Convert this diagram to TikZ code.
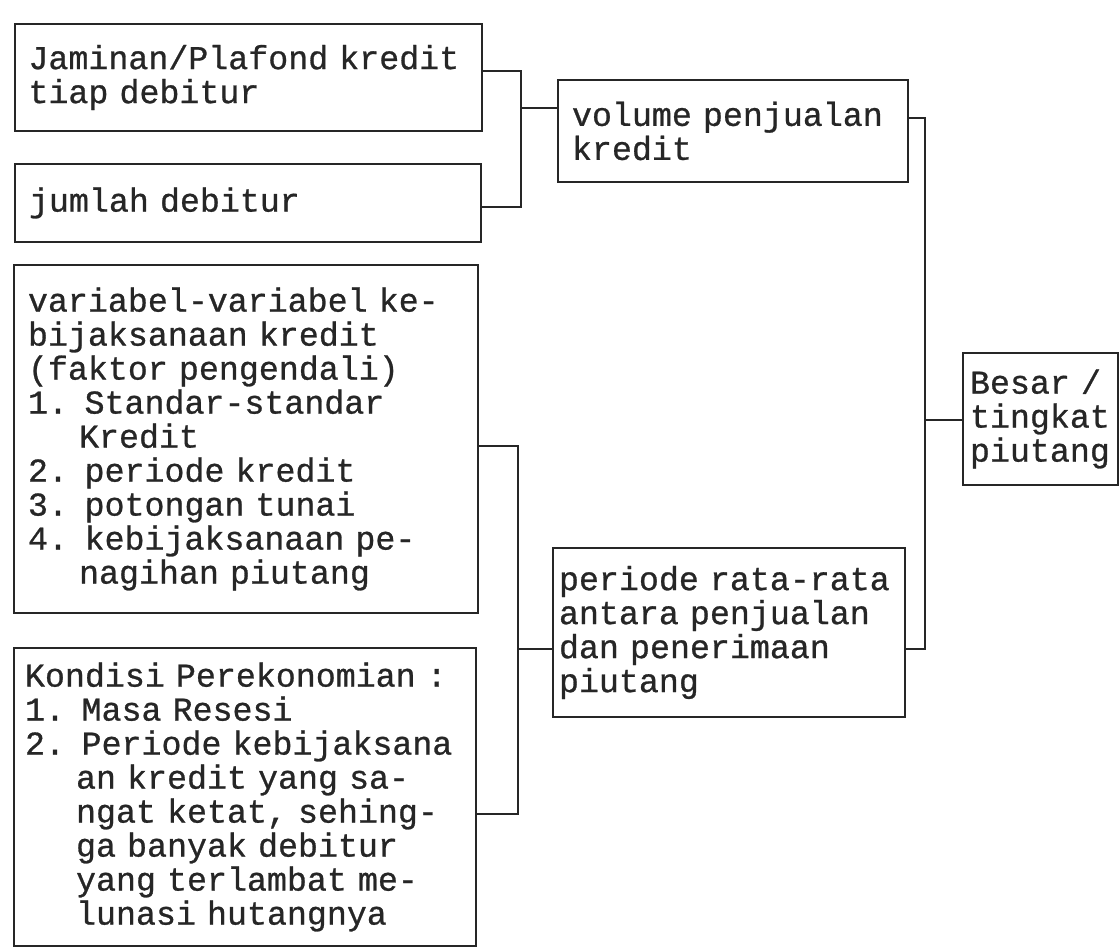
\documentclass[tikz,border=0pt]{standalone}
\usepackage{fontspec}
\setmonofont{Liberation Mono}[FakeBold=0.8]
\usepackage{tikz}
\usetikzlibrary{positioning}
\definecolor{tinta}{RGB}{38,38,38}
\newcommand{\listindent}{\phantom{0.\ }}
\tikzset{
  kotak/.style={draw=tinta,line width=1.8pt,rectangle,align=left,inner ysep=0pt,inner xsep=14pt,
    text=tinta,font=\ttfamily\fontsize{33.3}{34}\selectfont},
  garis/.style={draw=tinta,line width=1.5pt}
}

\begin{document}
\begin{tikzpicture}[x=1pt,y=-1pt]
  \useasboundingbox (0,0) rectangle (1119,949);
  \node[kotak,inner xsep=13.5pt,text width=440pt,minimum height=107pt] (jaminan) at (248.5,77.5) {Jaminan/Plafond kredit\\tiap debitur};
  \node[kotak,text width=438pt,minimum height=78pt] (jumlah) at (248,203) {jumlah debitur};
  \node[kotak,text width=436pt,minimum height=348pt] (variabel) at (246,439) {variabel-variabel ke-\\bijaksanaan kredit\\(faktor pengendali)\\1. Standar-standar\\\listindent Kredit\\2. periode kredit\\3. potongan tunai\\4. kebijaksanaan pe-\\\listindent nagihan piutang};
  \node[kotak,inner xsep=11pt,text width=440pt,minimum height=298pt] (kondisi) at (245,797) {Kondisi Perekonomian :\\1. Masa Resesi\\2. Periode kebijaksana\\\listindent an kredit yang sa-\\\listindent ngat ketat, sehing-\\\listindent ga banyak debitur\\\listindent yang terlambat me-\\\listindent lunasi hutangnya};
  \node[kotak,text width=322pt,minimum height=102pt] (volume) at (733,131) {volume penjualan\\kredit};
  \node[kotak,inner xsep=6pt,text width=340pt,minimum height=169pt] (periode) at (729,632.5) {periode rata-rata\\antara penjualan\\dan penerimaan\\piutang};
  \node[kotak,inner xsep=7pt,text width=141pt,minimum height=132pt] (besar) at (1040.5,419) {Besar /\\tingkat\\piutang};
  \coordinate (cabang1) at (521,108);
  \coordinate (cabang2) at (518,649);
  \coordinate (cabang3) at (925,420);
  \draw[garis] ([yshift=6.5pt]jaminan.east) -| (cabang1) |- ([yshift=-4pt]jumlah.east);
  \draw[garis] (cabang1) -- (volume.west |- cabang1);
  \draw[garis] ([yshift=-7pt]variabel.east) -| (cabang2) |- ([yshift=-17pt]kondisi.east);
  \draw[garis] (cabang2) -- (periode.west |- cabang2);
  \draw[garis] ([yshift=13pt]volume.east) -| (cabang3) |- ([yshift=-16.5pt]periode.east);
  \draw[garis] (cabang3) -- (besar.west |- cabang3);
\end{tikzpicture}
\end{document}
